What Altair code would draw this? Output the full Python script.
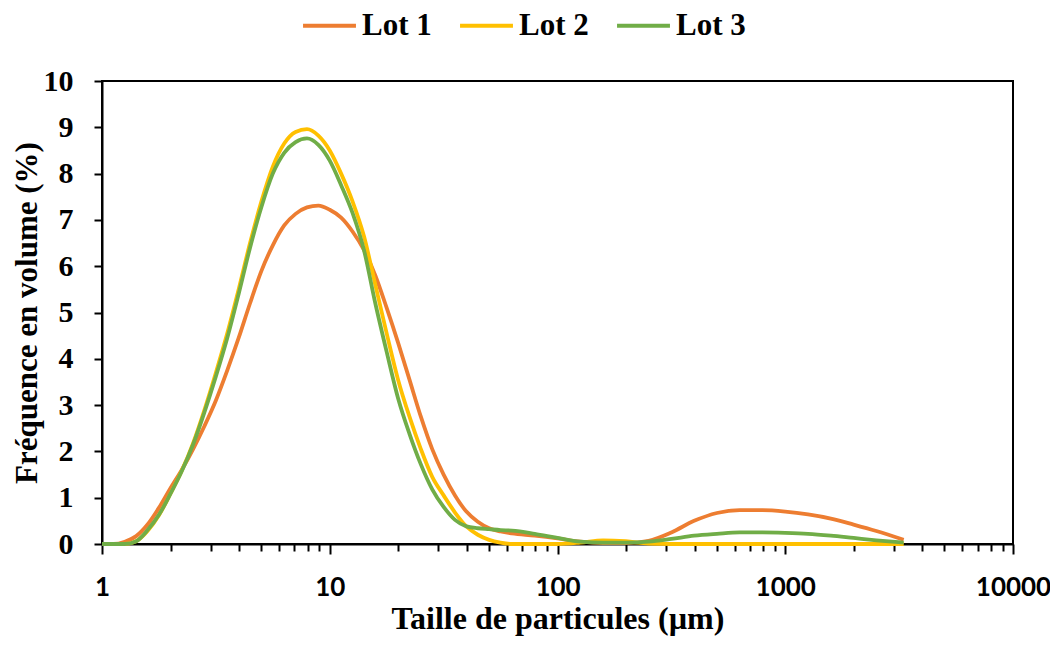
import altair as alt
import pandas as pd

# Particle size grid (µm)
sizes = [1.0, 1.122, 1.259, 1.413, 1.585, 1.778, 1.995, 2.239, 2.512, 2.818,
         3.162, 3.548, 3.981, 4.467, 5.012, 5.623, 6.310, 7.079, 7.943, 8.913,
         10.0, 11.22, 12.59, 14.13, 15.85, 17.78, 19.95, 22.39, 25.12, 28.18,
         31.62, 35.48, 39.81, 44.67, 50.12, 56.23, 63.10, 79.43, 100.0, 125.9,
         158.5, 199.5, 251.2, 316.2, 398.1, 501.2, 631.0, 794.3, 1000.0, 1259.0,
         1585.0, 1995.0, 2512.0, 3311.0]

lot1 = [0.0, 0.0, 0.05, 0.17, 0.42, 0.78, 1.2, 1.6, 2.05, 2.55,
        3.1, 3.75, 4.45, 5.2, 5.9, 6.45, 6.88, 7.13, 7.27, 7.31,
        7.22, 7.05, 6.75, 6.35, 5.8, 5.1, 4.35, 3.55, 2.75, 2.05,
        1.5, 1.05, 0.7, 0.48, 0.34, 0.27, 0.23, 0.18, 0.12, 0.05,
        0.02, 0.02, 0.07, 0.25, 0.5, 0.67, 0.73, 0.73, 0.7, 0.64,
        0.55, 0.42, 0.28, 0.09]

lot2 = [0.0, 0.0, 0.0, 0.06, 0.28, 0.62, 1.08, 1.58, 2.18, 2.9,
        3.7, 4.55, 5.5, 6.5, 7.4, 8.15, 8.65, 8.9, 8.96, 8.82,
        8.5, 8.0, 7.4, 6.65, 5.6, 4.55, 3.55, 2.75, 2.05, 1.45,
        1.05, 0.68, 0.38, 0.2, 0.09, 0.03, 0.0, 0.0, 0.0, 0.03,
        0.08, 0.06, 0.01, 0.0, 0.0, 0.0, 0.0, 0.0, 0.0, 0.0,
        0.0, 0.0, 0.0, 0.0]

lot3 = [0.0, 0.0, 0.0, 0.06, 0.3, 0.63, 1.08, 1.57, 2.15, 2.85,
        3.62, 4.45, 5.4, 6.4, 7.28, 8.0, 8.45, 8.68, 8.76, 8.62,
        8.28, 7.75, 7.15, 6.35, 5.2, 4.15, 3.15, 2.38, 1.72, 1.18,
        0.8, 0.52, 0.38, 0.34, 0.32, 0.3, 0.29, 0.22, 0.13, 0.05,
        0.03, 0.03, 0.05, 0.11, 0.18, 0.22, 0.25, 0.25, 0.24, 0.22,
        0.18, 0.13, 0.08, 0.03]

series_names = ["Lot 1", "Lot 2", "Lot 3"]
series_colors = ["#ED7D31", "#FFC000", "#70AD47"]

x_ticks = [1, 2, 3, 4, 5, 6, 7, 8, 9,
           10, 20, 30, 40, 50, 60, 70, 80, 90,
           100, 200, 300, 400, 500, 600, 700, 800, 900,
           1000, 2000, 3000, 4000, 5000, 6000, 7000, 8000, 9000, 10000]
y_ticks = [0, 1, 2, 3, 4, 5, 6, 7, 8, 9, 10]

rows = []
for name, vals in zip(series_names, [lot1, lot2, lot3]):
    for i, (s, v) in enumerate(zip(sizes, vals)):
        rows.append({"Lot": name, "size": s, "freq": v, "idx": i})
df = pd.DataFrame(rows)

serif = "Liberation Serif"
major = "indexof([1,10,100,1000,10000], datum.value) >= 0"

chart = alt.Chart(df).mark_line(strokeWidth=3.8, interpolate="monotone").encode(
    x=alt.X("size:Q",
            scale=alt.Scale(type="log", domain=[1, 10000], nice=False),
            axis=alt.Axis(values=x_ticks,
                          labelExpr=major + " ? format(datum.value, 'd') : ''",
                          labelFont="Lato", labelFontWeight="bold", labelFontSize=26,
                          labelColor="black", labelPadding=20, labelFlush=False,
                          labelOverlap=False,
                          tickSize={"condition": {"test": major, "value": 10}, "value": 7},
                          tickColor="black", tickWidth=2,
                          domainColor="black", domainWidth=2, grid=False,
                          title="Taille de particules (µm)", titleFont=serif,
                          titleFontSize=32, titleFontWeight="bold", titleColor="black",
                          titlePadding=3)),
    y=alt.Y("freq:Q",
            scale=alt.Scale(domain=[0, 10], nice=False),
            axis=alt.Axis(values=y_ticks, format="d",
                          labelFont=serif, labelFontWeight="bold", labelFontSize=30,
                          labelColor="black", labelPadding=21,
                          tickSize=8, tickColor="black", tickWidth=2,
                          domainColor="black", domainWidth=2, grid=False,
                          title="Fréquence en volume (%)", titleFont=serif,
                          titleFontSize=31, titleFontWeight="bold", titleColor="black",
                          titlePadding=0)),
    color=alt.Color("Lot:N",
                    scale=alt.Scale(domain=series_names, range=series_colors),
                    legend=alt.Legend(orient="none", direction="horizontal",
                                      legendX=199, legendY=-84, title=None,
                                      symbolType="stroke", symbolSize=2800,
                                      symbolStrokeWidth=4,
                                      labelFont=serif, labelFontWeight="bold",
                                      labelFontSize=31, labelColor="black",
                                      labelOffset=4, columnPadding=20)),
    order="idx:Q",
).properties(
    width=911,
    height=463,
    autosize=alt.AutoSizeParams(type="none"),
    padding={"left": 94, "top": 73, "right": 37, "bottom": 95},
).configure(
    background="white"
).configure_view(
    stroke="black", strokeWidth=2
)

chart.save("out.html", embed_options={"renderer": "svg", "actions": False})
